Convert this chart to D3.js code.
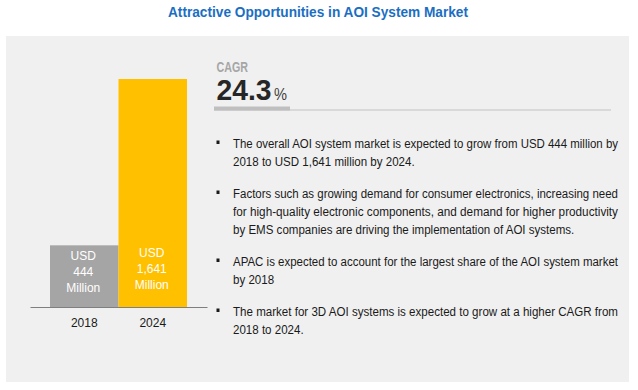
<!DOCTYPE html>
<html>
<head>
<meta charset="utf-8">
<script src="https://cdn.jsdelivr.net/npm/d3@7"></script>
<style>
  html, body { margin: 0; padding: 0; background: #ffffff; }
  svg { display: block; }
</style>
</head>
<body>
<div id="vis-container"></div>
<script>
// ------------------------------ DATA ------------------------------ //
const years = ["2018", "2024"];
const marketSize = [444, 1641];           // USD million
const barColors = ["#a5a5a5", "#ffc000"];
const barLabels = [["USD", "444", "Million"], ["USD", "1,641", "Million"]];
const cagrValue = "24.3";
const titleText = "Attractive Opportunities in AOI System Market";
const bullets = [
  ["The overall AOI system market is expected to grow from USD 444 million by",
   "2018 to USD 1,641 million by 2024."],
  ["Factors such as growing demand for consumer electronics, increasing need",
   "for high-quality electronic components, and demand for higher productivity",
   "by EMS companies are driving the implementation of AOI systems."],
  ["APAC is expected to account for the largest share of the AOI system market",
   "by 2018"],
  ["The market for 3D AOI systems is expected to grow at a higher CAGR from",
   "2018 to 2024."]
];

// ------------------------------ SET UP ------------------------------ //
const width = 638;
const height = 390;
const baseline = 307;
const font = "'Liberation Sans', Arial, sans-serif";
const narrow = "'Liberation Sans Narrow', 'Liberation Sans', Arial, sans-serif";

const svg = d3.select("#vis-container")
  .append("svg")
  .attr("width", width)
  .attr("height", height);

// Title
svg.append("text")
  .attr("x", 318)
  .attr("y", 17)
  .attr("text-anchor", "middle")
  .attr("font-family", narrow)
  .attr("font-weight", "bold")
  .attr("font-size", "15px")
  .attr("fill", "#1b6ec2")
  .attr("textLength", 300)
  .attr("lengthAdjust", "spacingAndGlyphs")
  .text(titleText);

// Grey panel
svg.append("rect")
  .attr("x", 6)
  .attr("y", 36)
  .attr("width", 623)
  .attr("height", 346)
  .attr("fill", "#f0f0f0");

// ------------------------------ BARS ------------------------------ //
const xScale = d3.scaleBand()
  .domain(years)
  .range([30, 207])
  .paddingInner(0)
  .paddingOuter(0.292);

const yScale = d3.scaleLinear()
  .domain([0, 1641])
  .range([baseline, 79]);

const data = years.map((y, i) => ({ year: y, value: marketSize[i], color: barColors[i], label: barLabels[i] }));

svg.selectAll(".bar")
  .data(data)
  .enter()
  .append("rect")
  .attr("class", "bar")
  .attr("x", (d) => xScale(d.year))
  .attr("y", (d) => yScale(d.value))
  .attr("width", xScale.bandwidth())
  .attr("height", (d) => baseline - yScale(d.value))
  .attr("fill", (d) => d.color);

// Labels inside the bars
const labelTop = (d) => Math.max(yScale(d.value) + 15, baseline - 50);
svg.selectAll(".bar-label")
  .data(data)
  .enter()
  .append("text")
  .attr("class", "bar-label")
  .attr("text-anchor", "middle")
  .attr("font-family", font)
  .attr("font-size", "12px")
  .attr("fill", "#ffffff")
  .each(function (d) {
    d3.select(this).selectAll("tspan")
      .data(d.label)
      .enter()
      .append("tspan")
      .attr("x", xScale(d.year) + xScale.bandwidth() / 2 - 1)
      .attr("y", (t, j) => labelTop(d) + j * 16)
      .text((t) => t);
  });

// X axis
svg.append("g")
  .attr("transform", `translate(0,${baseline})`)
  .call(d3.axisBottom(xScale).tickSize(0).tickSizeOuter(0).tickPadding(11.5))
  .call((g) => g.select(".domain").attr("stroke", "#7f7f7f"))
  .call((g) => g.selectAll("text")
    .attr("font-family", font)
    .attr("font-size", "12px")
    .attr("fill", "#1a1a1a"));

// ------------------------------ CAGR ------------------------------ //
svg.append("text")
  .attr("x", 216.5)
  .attr("y", 72)
  .attr("font-family", narrow)
  .attr("font-weight", "bold")
  .attr("font-size", "14px")
  .attr("fill", "#a6a6a6")
  .attr("textLength", 31.5)
  .attr("lengthAdjust", "spacingAndGlyphs")
  .text("CAGR");

svg.append("text")
  .attr("x", 216.5)
  .attr("y", 100)
  .attr("font-family", narrow)
  .attr("font-weight", "bold")
  .attr("font-size", "29px")
  .attr("fill", "#262626")
  .attr("textLength", 55)
  .attr("lengthAdjust", "spacingAndGlyphs")
  .text(cagrValue);

svg.append("text")
  .attr("x", 274)
  .attr("y", 100)
  .attr("font-family", narrow)
  .attr("font-size", "17px")
  .attr("fill", "#404040")
  .attr("textLength", 13)
  .attr("lengthAdjust", "spacingAndGlyphs")
  .text("%");

svg.append("rect")
  .attr("x", 214)
  .attr("y", 109)
  .attr("width", 397)
  .attr("height", 2)
  .attr("fill", "#d9d9d9");

svg.append("rect")
  .attr("x", 214)
  .attr("y", 106.5)
  .attr("width", 76)
  .attr("height", 4)
  .attr("fill", "#bfbfbf");

// ------------------------------ BULLETS ------------------------------ //
const textX = 233;
const textWidth = 385;
const lineHeight = 18;
const paraGap = 14;

let yPos = 148;
const lineNodes = [];
bullets.forEach((para) => {
  svg.append("rect")
    .attr("x", 216.5)
    .attr("y", yPos - 7.5)
    .attr("width", 3)
    .attr("height", 3.5)
    .attr("fill", "#1a1a1a");

  para.forEach((line, j) => {
    const t = svg.append("text")
      .attr("x", textX)
      .attr("y", yPos + j * lineHeight)
      .attr("font-family", font)
      .attr("font-size", "12px")
      .attr("fill", "#1a1a1a")
      .text(line);
    lineNodes.push({ node: t, last: j === para.length - 1 });
  });
  yPos += para.length * lineHeight + paraGap;
});

// Justify full lines to the column width, squeeze last lines by the same ratio
const ratios = lineNodes.filter((l) => !l.last)
  .map((l) => textWidth / l.node.node().getComputedTextLength());
const k = d3.mean(ratios);
lineNodes.forEach((l) => {
  const w = l.node.node().getComputedTextLength();
  l.node
    .attr("textLength", l.last ? w * k : textWidth)
    .attr("lengthAdjust", "spacingAndGlyphs");
});
</script>
</body>
</html>
